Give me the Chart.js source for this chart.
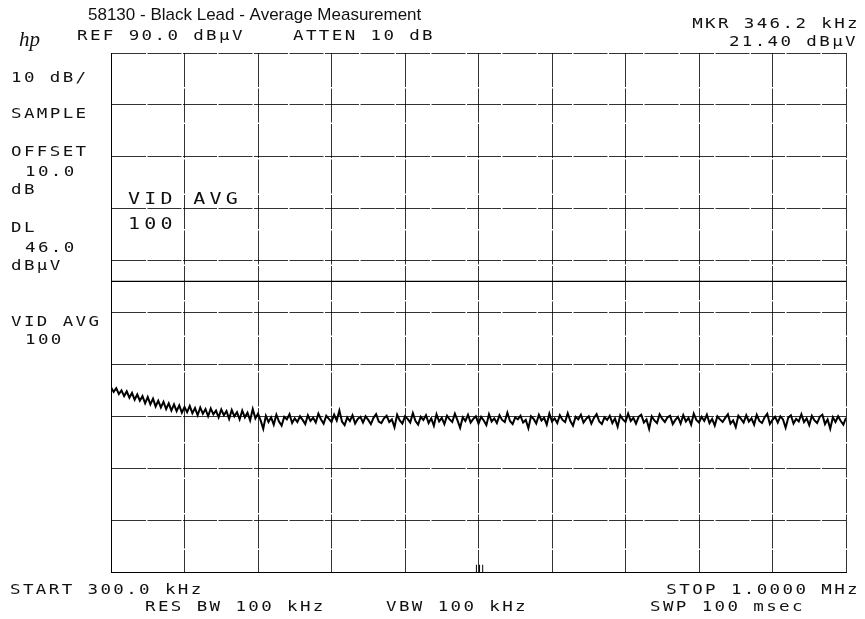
<!DOCTYPE html>
<html>
<head>
<meta charset="utf-8">
<title>58130 - Black Lead - Average Measurement</title>
<script src="https://cdn.jsdelivr.net/npm/chart.js@4.4.1/dist/chart.umd.min.js"></script>
<style>
  html, body { margin: 0; padding: 0; background: #fff; }
  #wrap { width: 865px; height: 619px; }
</style>
</head>
<body>
<div id="wrap"><canvas id="trace" width="865" height="619"></canvas></div>
<script>
// sweep setup (kHz) and reference level (dBuV)
var START_KHZ = 300;
var STOP_KHZ = 1000;
var STEP_KHZ = 2.5;
var REF_LEVEL = 90;
var DB_PER_DIV = 10;
var DISPLAY_LINE = 46.0;

// trace levels, one per sweep step
var traceLevels = [
  25.6, 24.7, 25.4, 24.3, 25.0, 23.9, 24.8, 23.6, 24.5, 23.2,
  24.2, 23.0, 23.9, 22.5, 23.7, 22.3, 23.4, 21.9, 23.0, 21.7,
  22.8, 21.4, 22.5, 21.1, 22.3, 21.0, 22.1, 20.7, 21.8,
  20.8, 22.0, 20.6, 21.6, 20.2, 21.7, 20.5, 21.4, 20.0, 21.5,
  20.4, 21.1, 19.8, 21.3, 20.2, 21.0, 19.5, 21.2, 20.0, 20.8,
  19.4, 21.1, 19.8, 20.7, 19.2, 21.4, 19.6, 20.5,
  19.2, 17.6, 20.1, 18.9, 19.8, 18.4, 20.3, 19.0, 18.2, 19.9, 19.4, 20.4, 18.7, 19.6, 18.9, 20.0,
  19.3, 18.5, 20.2, 19.1, 19.7, 18.8, 20.5, 19.4, 18.6, 20.1, 19.5, 18.9, 20.3, 19.2, 21.1, 19.0,
  18.3, 19.8, 19.1, 20.2, 18.6, 19.5, 19.9, 18.8, 20.0, 19.3, 18.5, 19.7, 20.4, 19.0, 18.7, 19.6,
  20.1, 18.9, 19.4, 17.9, 20.3, 19.2, 18.6, 20.0, 19.5, 18.8, 20.6, 19.1, 18.4, 19.9, 19.3, 20.2,
  18.7, 19.6, 18.2, 20.4, 19.0, 19.7, 18.5, 20.1, 19.4, 18.9, 20.5, 19.2, 17.8, 19.8, 19.1, 20.3,
  18.8, 19.5, 20.0, 18.6, 19.9, 19.2, 18.3, 20.4, 19.0, 19.6, 18.7, 20.2, 19.3, 18.9, 20.7, 19.1,
  18.5, 19.8, 19.4, 20.1, 18.8, 19.3, 17.7, 20.0, 19.5, 18.6, 20.3, 19.2, 19.7, 18.4, 20.5, 19.0,
  19.6, 18.7, 20.2, 19.3, 18.9, 20.6, 19.1, 18.2, 19.9, 19.4, 20.3, 18.8, 19.5, 20.0, 18.6, 19.7,
  20.4, 19.0, 18.5, 19.8, 19.3, 20.1, 18.7, 19.6, 18.0, 20.2, 19.4, 18.9, 20.5, 19.1, 19.7, 18.6,
  19.9, 20.3, 18.8, 19.4, 17.6, 20.0, 19.2, 18.7, 20.4, 19.5, 18.9, 19.8, 20.1, 18.5, 19.3, 19.9,
  18.6, 20.2, 19.0, 19.7, 18.4, 20.5, 19.3, 18.8, 19.9, 19.1, 20.3, 18.7, 19.5, 18.2, 20.0, 19.4,
  18.9, 19.7, 20.4, 18.6, 19.2, 17.9, 20.1, 19.5, 18.8, 20.2, 19.0, 19.6, 18.4, 20.3, 19.1, 18.7,
  19.8, 20.5, 18.5, 19.3, 19.9, 18.8, 20.0, 19.4, 17.8, 19.7, 20.2, 18.6, 19.5, 19.0, 20.4, 18.9,
  19.6, 18.3, 20.1, 19.2, 18.7, 19.9, 20.3, 18.5, 19.4, 17.6, 19.8, 18.9, 20.0, 19.1, 18.4, 19.7
];

// little marker ticks on the bottom graticule line (kHz)
var markerTickFreqs = [648, 651, 654];
var markerTickTop = -8.6;

// annotation texts from the plotter output
var titleText = '58130 - Black Lead - Average Measurement';
var headerTexts = ['REF 90.0 dB\u00b5V', 'ATTEN 10 dB', 'MKR 346.2 kHz', '21.40 dB\u00b5V'];
var sideTexts = ['10 dB/', 'SAMPLE', 'OFFSET', '10.0', 'dB', 'DL', '46.0', 'dB\u00b5V', 'VID AVG', '100'];
var footerTexts = ['START 300.0 kHz', 'STOP 1.0000 MHz', 'RES BW 100 kHz', 'VBW 100 kHz', 'SWP 100 msec'];
var inPlotTexts = ['VID AVG', '100'];

var tracePoints = traceLevels.map(function (v, i) {
  return { x: START_KHZ + i * STEP_KHZ, y: v };
});

var markerPoints = [];
markerTickFreqs.forEach(function (f) {
  markerPoints.push({ x: f, y: REF_LEVEL - 10 * DB_PER_DIV });
  markerPoints.push({ x: f, y: markerTickTop });
  markerPoints.push({ x: f, y: null });
});

var HP_FONT = '"DejaVu Sans Mono", "Liberation Mono", monospace';

var textPlugin = {
  id: 'plotterText',
  afterDraw: function (chart) {
    var ctx = chart.ctx;
    ctx.save();
    ctx.fillStyle = '#111';
    ctx.textBaseline = 'middle';

    ctx.font = '17px "Liberation Sans", Arial, sans-serif';
    ctx.letterSpacing = '0px';
    ctx.textAlign = 'left';
    ctx.fillText(titleText, 88, 15);

    ctx.font = 'italic 21px "Liberation Serif", serif';
    ctx.fillText('hp', 19, 40);

    // plotter glyphs are wide, so stretch the mono font sideways
    var stretch = 1.25;
    function put(txt, x, y, align) {
      ctx.save();
      ctx.translate(x, y);
      ctx.scale(stretch, 1);
      ctx.textAlign = align || 'left';
      ctx.fillText(txt, 0, 0);
      ctx.restore();
    }

    ctx.font = '14px ' + HP_FONT;
    ctx.letterSpacing = '1.9px';
    put(headerTexts[0], 77, 36);
    put(headerTexts[1], 293, 36);
    put(headerTexts[2], 860, 24, 'right');
    put(headerTexts[3], 858, 42, 'right');

    put(sideTexts[0], 11, 78);
    put(sideTexts[1], 11, 114);
    put(sideTexts[2], 11, 152);
    put(sideTexts[3], 25, 172);
    put(sideTexts[4], 11, 190);
    put(sideTexts[5], 11, 228);
    put(sideTexts[6], 25, 248);
    put(sideTexts[7], 11, 266);
    put(sideTexts[8], 11, 322);
    put(sideTexts[9], 25, 340);

    put(footerTexts[0], 10, 590);
    put(footerTexts[1], 860, 590, 'right');
    put(footerTexts[2], 145, 607);
    put(footerTexts[3], 386, 607);
    put(footerTexts[4], 650, 607);

    // the averaging readout inside the graticule is drawn bigger
    ctx.font = '16px ' + HP_FONT;
    ctx.letterSpacing = '3.4px';
    put(inPlotTexts[0], 128, 200);
    put(inPlotTexts[1], 128, 225);

    ctx.restore();
  }
};

new Chart(document.getElementById('trace'), {
  type: 'line',
  data: {
    datasets: [{
      label: 'Trace',
      data: tracePoints,
      borderColor: '#000',
      borderWidth: 2,
      pointRadius: 0,
      tension: 0
    }, {
      label: 'DL',
      data: [{ x: START_KHZ, y: DISPLAY_LINE }, { x: STOP_KHZ, y: DISPLAY_LINE }],
      borderColor: '#000',
      borderWidth: 1.3,
      pointRadius: 0
    }, {
      label: 'Marker ticks',
      data: markerPoints,
      borderColor: '#000',
      borderWidth: 1,
      pointRadius: 0,
      spanGaps: false
    }]
  },
  options: {
    responsive: false,
    animation: false,
    layout: { padding: { left: 111, right: 19, top: 53, bottom: 47 } },
    plugins: {
      legend: { display: false },
      tooltip: { enabled: false },
      title: { display: false }
    },
    scales: {
      x: {
        type: 'linear',
        min: START_KHZ,
        max: STOP_KHZ,
        ticks: { display: false, stepSize: (STOP_KHZ - START_KHZ) / 10 },
        grid: { color: 'rgba(0,0,0,0.8)', lineWidth: 1, drawTicks: false },
        border: { display: true, color: '#000', width: 1, dash: [34, 1.5] }
      },
      y: {
        min: REF_LEVEL - 10 * DB_PER_DIV,
        max: REF_LEVEL,
        ticks: { display: false, stepSize: DB_PER_DIV },
        grid: { color: 'rgba(0,0,0,0.8)', lineWidth: 1, drawTicks: false },
        border: { display: true, color: '#000', width: 1, dash: [34, 1.5] }
      }
    }
  },
  plugins: [textPlugin]
});
</script>
</body>
</html>
